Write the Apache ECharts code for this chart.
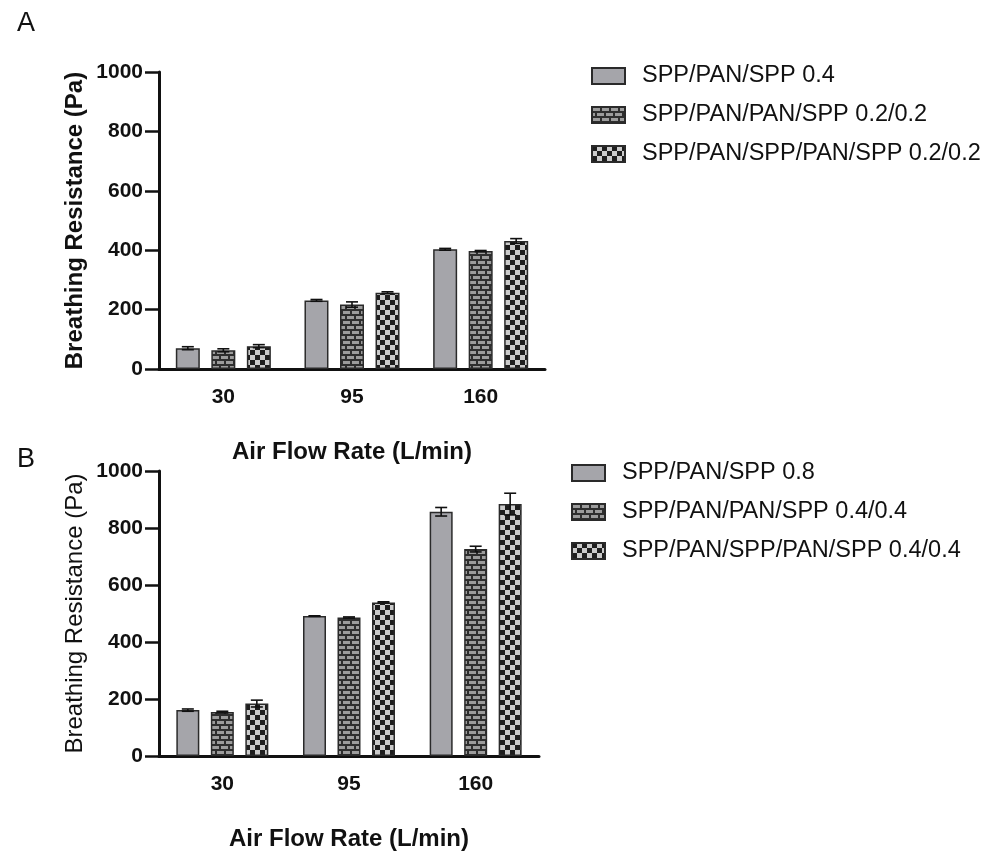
<!DOCTYPE html>
<html>
<head>
    <meta charset="utf-8">
    <title>Breathing Resistance</title>
    <script src="https://cdn.jsdelivr.net/npm/echarts@6/dist/echarts.min.js"></script>
</head>
<body style="margin:0;background:#fff;">
<div id="main" style="width: 1003px;height:852px;"></div>
<script type="text/javascript">
    // x categories (air flow rate, L/min)
    var categories = ['30', '95', '160'];
    var yTicks = [0, 200, 400, 600, 800, 1000];

    // panel A
    var namesA = ['SPP/PAN/SPP 0.4', 'SPP/PAN/PAN/SPP 0.2/0.2', 'SPP/PAN/SPP/PAN/SPP 0.2/0.2'];
    var aSolid = [70, 231, 403];
    var aSolidErr = [5, 3, 3];
    var aBrick = [63, 217, 397];
    var aBrickErr = [5, 9, 2];
    var aCheck = [77, 257, 431];
    var aCheckErr = [5, 3, 8];

    // panel B
    var namesB = ['SPP/PAN/SPP 0.8', 'SPP/PAN/PAN/SPP 0.4/0.4', 'SPP/PAN/SPP/PAN/SPP 0.4/0.4'];
    var bSolid = [161, 491, 857];
    var bSolidErr = [4, 1, 15];
    var bBrick = [154, 486, 726];
    var bBrickErr = [3, 2, 10];
    var bCheck = [184, 539, 884];
    var bCheckErr = [12, 2, 38];

    var FONT = 'Liberation Sans, Arial, sans-serif';

    // fill patterns
    function brickPattern() {
        var c = document.createElement('canvas');
        c.width = 18; c.height = 10;
        var g = c.getContext('2d');
        g.fillStyle = '#2e2e2e';
        g.fillRect(0, 0, 18, 10);
        g.fillStyle = '#9c9c9c';
        g.fillRect(1, 1, 7, 3);
        g.fillRect(10, 1, 7, 3);
        g.fillRect(0, 6, 3, 3);
        g.fillRect(5, 6, 7, 3);
        g.fillRect(14, 6, 4, 3);
        return c;
    }
    function checkPattern() {
        var c = document.createElement('canvas');
        c.width = 10; c.height = 10;
        var g = c.getContext('2d');
        g.fillStyle = '#cbcbcb';
        g.fillRect(0, 0, 10, 10);
        g.fillStyle = '#1e1e1e';
        g.fillRect(0, 0, 5, 5);
        g.fillRect(5, 5, 5, 5);
        return c;
    }
    var fills = [
        '#a5a5aa',
        {image: brickPattern(), repeat: 'repeat'},
        {image: checkPattern(), repeat: 'repeat'}
    ];

    function barSeries(name, data, k, idx, barWidth, barGap) {
        return {
            name: name,
            type: 'bar',
            xAxisIndex: idx,
            yAxisIndex: idx,
            data: data,
            barWidth: barWidth,
            barGap: barGap,
            itemStyle: {color: fills[k], borderColor: '#2a2a2a', borderWidth: 1.5},
            z: 2
        };
    }

    function errSeries(vals, errs, k, idx, spacing) {
        return {
            type: 'custom',
            xAxisIndex: idx,
            yAxisIndex: idx,
            z: 5,
            silent: true,
            data: vals.map(function (v, i) { return [i, v, errs[i]]; }),
            renderItem: function (params, api) {
                var i = api.value(0), v = api.value(1), e = api.value(2);
                var top = api.coord([i, v + e]);
                var bot = api.coord([i, v - e]);
                var x = top[0] + (k - 1) * spacing;
                var st = {stroke: '#111', lineWidth: 1.6};
                return {
                    type: 'group',
                    children: [
                        {type: 'line', shape: {x1: x, y1: top[1], x2: x, y2: bot[1]}, style: st},
                        {type: 'line', shape: {x1: x - 6, y1: top[1], x2: x + 6, y2: top[1]}, style: st},
                        {type: 'line', shape: {x1: x - 6, y1: bot[1], x2: x + 6, y2: bot[1]}, style: st}
                    ]
                };
            }
        };
    }

    function xAxis(idx) {
        return {
            type: 'category',
            gridIndex: idx,
            data: categories,
            name: 'Air Flow Rate (L/min)',
            nameLocation: 'middle',
            nameGap: 71,
            nameTextStyle: {fontFamily: FONT, fontSize: 24, fontWeight: 'bold', color: '#111'},
            axisLine: {lineStyle: {color: '#111', width: 3}},
            axisTick: {alignWithLabel: true, length: 10, lineStyle: {width: 2.5, color: '#111'}},
            axisLabel: {fontFamily: FONT, fontSize: 21, fontWeight: 'bold', color: '#111', margin: 18}
        };
    }

    function yAxis(idx, bold) {
        return {
            type: 'value',
            gridIndex: idx,
            min: yTicks[0],
            max: yTicks[yTicks.length - 1],
            interval: 200,
            name: 'Breathing Resistance (Pa)',
            nameLocation: 'middle',
            nameGap: 72,
            nameTextStyle: {fontFamily: FONT, fontSize: 24, fontWeight: bold ? 'bold' : 'normal', color: '#111'},
            axisLine: {show: true, lineStyle: {color: '#111', width: 3}},
            axisTick: {show: true, length: 14, lineStyle: {width: 2.5, color: '#111'}},
            axisLabel: {
                fontFamily: FONT, fontSize: 21, fontWeight: 'bold', color: '#111', margin: 16,
                formatter: function (v) { return String(v); }
            },
            splitLine: {show: false}
        };
    }

    function legend(names, left, top) {
        return {
            data: names,
            orient: 'vertical',
            left: left,
            top: top,
            padding: 0,
            itemWidth: 33,
            itemHeight: 16,
            itemGap: 15,
            selectedMode: false,
            icon: 'rect',
            textStyle: {fontFamily: FONT, fontSize: 23.5, color: '#111', padding: [0, 0, 0, 12]}
        };
    }

    var myChart = echarts.init(document.getElementById('main'));
    var option = {
        backgroundColor: '#fff',
        animation: false,
        title: [
            {text: 'A', left: 12, top: 5, textStyle: {fontFamily: FONT, fontSize: 27, fontWeight: 'normal', color: '#111'}},
            {text: 'B', left: 12, top: 441, textStyle: {fontFamily: FONT, fontSize: 27, fontWeight: 'normal', color: '#111'}}
        ],
        legend: [legend(namesA, 591, 64), legend(namesB, 571, 461)],
        grid: [
            {left: 159, top: 72, width: 386, height: 297},
            {left: 159, top: 471, width: 380, height: 285}
        ],
        xAxis: [xAxis(0), xAxis(1)],
        yAxis: [yAxis(0, true), yAxis(1, false)],
        series: [
            barSeries(namesA[0], aSolid, 0, 0, 24, '48%'),
            barSeries(namesA[1], aBrick, 1, 0, 24, '48%'),
            barSeries(namesA[2], aCheck, 2, 0, 24, '48%'),
            barSeries(namesB[0], bSolid, 0, 1, 23, '50%'),
            barSeries(namesB[1], bBrick, 1, 1, 23, '50%'),
            barSeries(namesB[2], bCheck, 2, 1, 23, '50%'),
            errSeries(aSolid, aSolidErr, 0, 0, 35.5),
            errSeries(aBrick, aBrickErr, 1, 0, 35.5),
            errSeries(aCheck, aCheckErr, 2, 0, 35.5),
            errSeries(bSolid, bSolidErr, 0, 1, 34.5),
            errSeries(bBrick, bBrickErr, 1, 1, 34.5),
            errSeries(bCheck, bCheckErr, 2, 1, 34.5)
        ]
    };
    myChart.setOption(option);
</script>
</body>
</html>
